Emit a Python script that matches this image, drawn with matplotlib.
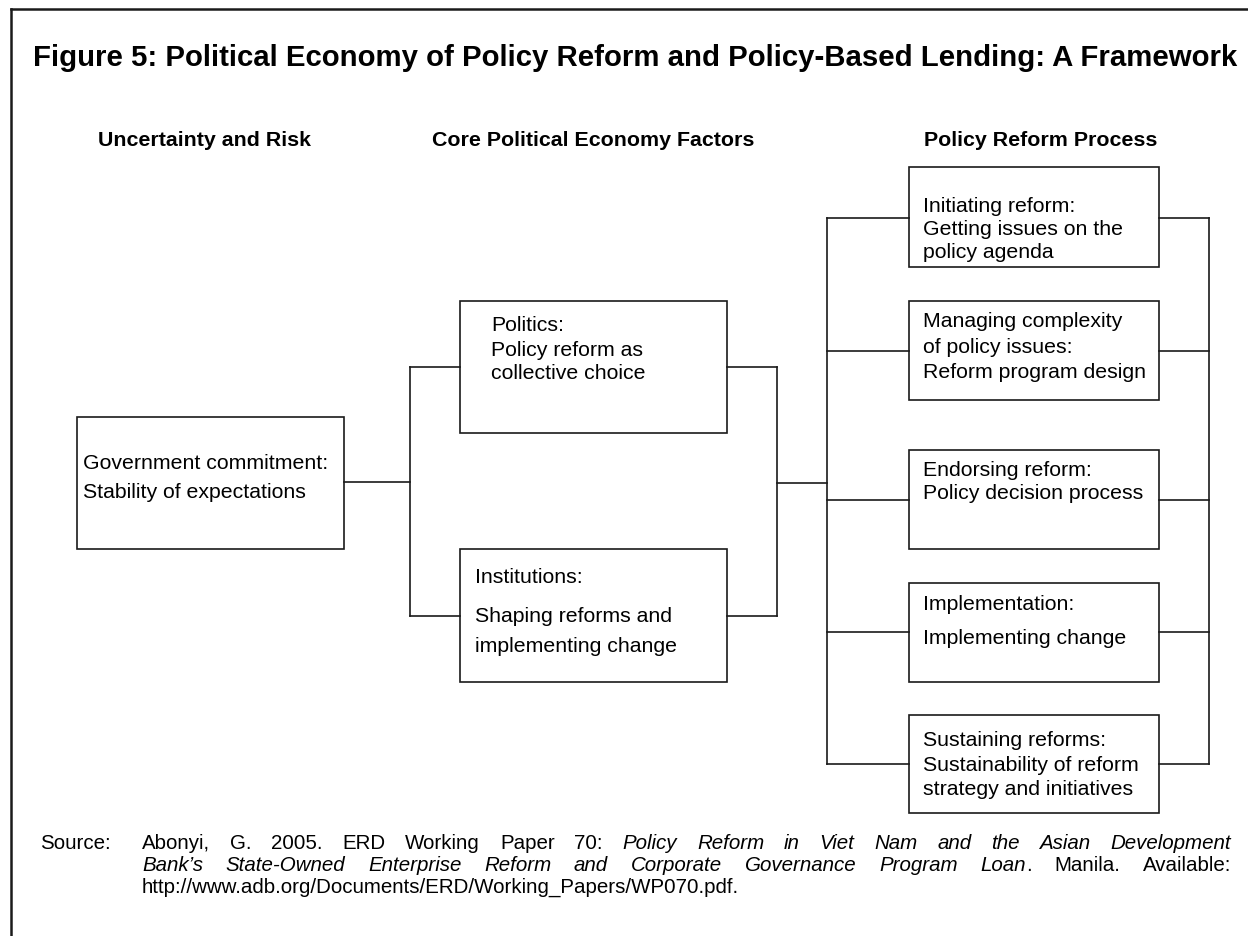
import matplotlib
matplotlib.use('Agg')
import matplotlib.pyplot as plt
from matplotlib.patches import Rectangle

plt.rcParams['font.family'] = ['Liberation Sans', 'DejaVu Sans']

# --- text content of the framework ---
title = "Figure 5: Political Economy of Policy Reform and Policy-Based Lending: A Framework"
column_headers = ["Uncertainty and Risk", "Core Political Economy Factors", "Policy Reform Process"]
risk_box = ["Government commitment:", "Stability of expectations"]
factor_boxes = [["Politics:", "Policy reform as", "collective choice"],
                ["Institutions:", "Shaping reforms and", "implementing change"]]
process_boxes = [["Initiating reform:", "Getting issues on the", "policy agenda"],
                 ["Managing complexity", "of policy issues:", "Reform program design"],
                 ["Endorsing reform:", "Policy decision process"],
                 ["Implementation:", "Implementing change"],
                 ["Sustaining reforms:", "Sustainability of reform", "strategy and initiatives"]]
source_label = "Source:"
source_lines = [
    [("Abonyi, G. 2005. ERD Working Paper 70: ", False),
     ("Policy Reform in Viet Nam and the Asian Development", True)],
    [("Bank\u2019s State-Owned Enterprise Reform and Corporate Governance Program Loan", True),
     (". Manila. Available:", False)],
    [("http://www.adb.org/Documents/ERD/Working_Papers/WP070.pdf.", False)],
]

# --- layout (pixels, y downwards) ---
W, H = 1248, 936
LC = '#1a1a1a'
LW = 1.2
BODY = 15.3
risk_rect = (77, 417, 344, 549)
risk_text = (83, [469, 498])
factor_rects = [(460, 301, 727, 433), (460, 549, 727, 682)]
factor_text = [(491, [331, 356, 379]), (475, [583, 622, 652])]
proc_x = (909, 1159)
proc_y = [(167, 267), (301, 400), (450, 549), (583, 682), (715, 813)]
proc_base = [[212, 235, 258], [327, 353, 378], [476, 499], [610, 644], [746, 771, 795]]
proc_links = [218, 351, 500, 632, 764]

fig = plt.figure(figsize=(W / 100, H / 100), dpi=100)
ax = fig.add_axes([0, 0, 1, 1])
ax.set_xlim(0, W)
ax.set_ylim(H, 0)
ax.axis('off')
renderer = fig.canvas.get_renderer()


def line(xs, ys, lw=LW):
    ax.plot(xs, ys, color=LC, lw=lw, solid_capstyle='projecting')


def box(r, lines, tx, bases):
    x0, y0, x1, y1 = r
    ax.add_patch(Rectangle((x0, y0), x1 - x0, y1 - y0, fill=False, ec=LC, lw=LW))
    for s, b in zip(lines, bases):
        ax.text(tx, b, s, fontsize=BODY, va='baseline', ha='left', color='black')


def width(t):
    return t.get_window_extent(renderer).width


# outer frame (open at right and bottom)
line([11, W + 5], [9, 9], lw=1.8)
line([11, 11], [9, H + 5], lw=1.8)

# title, fitted to the frame width
t = ax.text(33, 66, title, fontsize=20, fontweight='bold', va='baseline')
t.set_fontsize(20 * 1204 / width(t))

for s, cx in zip(column_headers, [204, 593, 1041]):
    ax.text(cx, 146, s, fontsize=15.4, fontweight='bold', ha='center', va='baseline')

# boxes
box(risk_rect, risk_box, *risk_text)
for r, lines, (tx, bases) in zip(factor_rects, factor_boxes, factor_text):
    box(r, lines, tx, bases)
for (y0, y1), lines, bases in zip(proc_y, process_boxes, proc_base):
    box((proc_x[0], y0, proc_x[1], y1), lines, 923, bases)

# connectors
line([344, 410], [482, 482])
line([410, 410], [367, 616])
line([410, 460], [367, 367])
line([410, 460], [616, 616])
line([727, 777], [367, 367])
line([727, 777], [616, 616])
line([777, 777], [367, 616])
line([777, 827], [483, 483])
line([827, 827], [proc_links[0], proc_links[-1]])
line([1209, 1209], [proc_links[0], proc_links[-1]])
for y in proc_links:
    line([827, proc_x[0]], [y, y])
    line([proc_x[1], 1209], [y, y])


# source note, justified like the original
SRC = 14.8


def split_words(segs):
    words, join = [], False
    for txt, it in segs:
        for i, p in enumerate(txt.split(' ')):
            if p == '':
                join = False
                continue
            if i == 0 and join and words:
                words[-1].append((p, it))
            else:
                words.append([(p, it)])
            join = True
    return words


def draw_word(x, y, pieces):
    for p, it in pieces:
        tt = ax.text(x, y, p, fontsize=SRC, style='italic' if it else 'normal', va='baseline')
        x += width(tt)
    return x


ax.text(40, 849, source_label, fontsize=SRC, va='baseline')
src_base = [849, 871, 893]
for k, (segs, yb) in enumerate(zip(source_lines, src_base)):
    words = split_words(segs)
    last = k == len(source_lines) - 1
    # measure
    tmp = []
    for w in words:
        tw = 0
        for p, it in w:
            tt = ax.text(0, 0, p, fontsize=SRC, style='italic' if it else 'normal')
            tw += width(tt)
            tt.remove()
        tmp.append(tw)
    if last or len(words) == 1:
        gap = 5.7
    else:
        gap = (1231 - 142 - sum(tmp)) / (len(words) - 1)
    x = 142
    for w, tw in zip(words, tmp):
        draw_word(x, yb, w)
        x += tw + gap

fig.savefig('out.png', dpi=100)
